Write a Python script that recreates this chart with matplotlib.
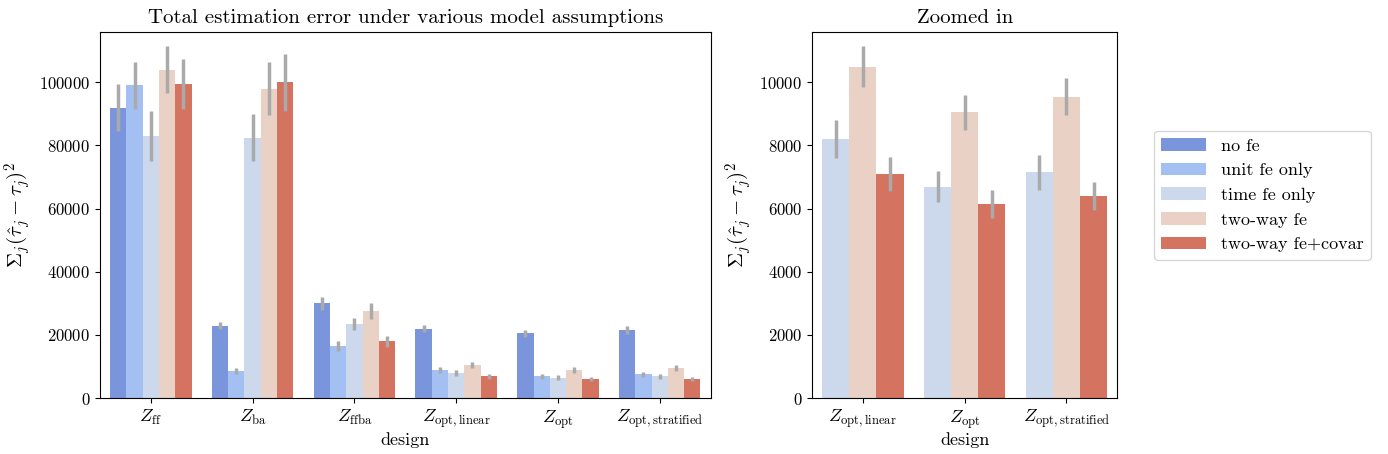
import numpy as np
import matplotlib
matplotlib.use("Agg")
import matplotlib.pyplot as plt

plt.rcParams['font.family'] = ['cmr10']
plt.rcParams['mathtext.fontset'] = 'cm'
plt.rcParams['axes.formatter.use_mathtext'] = True
plt.rcParams['axes.unicode_minus'] = False

designs = [r'$Z_{\mathrm{ff}}$', r'$Z_{\mathrm{ba}}$', r'$Z_{\mathrm{ffba}}$',
           r'$Z_{\mathrm{opt,linear}}$', r'$Z_{\mathrm{opt}}$', r'$Z_{\mathrm{opt,stratified}}$']
models = ['no fe', 'unit fe only', 'time fe only', 'two-way fe', 'two-way fe+covar']

values = {
    'no fe':            [92000, 23000, 30000, 22000, 20500, 21500],
    'unit fe only':     [99000, 8500, 16500, 9000, 7000, 7500],
    'time fe only':     [83000, 82500, 23500, 8000, 6500, 7000],
    'two-way fe':       [104000, 98000, 27500, 10500, 9000, 9500],
    'two-way fe+covar': [99500, 100000, 18000, 7000, 6000, 6000],
}
errors = {
    'no fe':            [7500, 1200, 2000, 1200, 1200, 1200],
    'unit fe only':     [7500, 900, 1500, 900, 800, 800],
    'time fe only':     [8000, 7500, 2000, 900, 800, 800],
    'two-way fe':       [7500, 8500, 2500, 1000, 900, 900],
    'two-way fe+covar': [8000, 9000, 1800, 800, 700, 700],
}

zoom_designs = designs[3:]
zoom_models = ['time fe only', 'two-way fe', 'two-way fe+covar']
zoom_values = {
    'time fe only':     [8200, 6700, 7150],
    'two-way fe':       [10500, 9050, 9550],
    'two-way fe+covar': [7100, 6150, 6400],
}
zoom_errors = {
    'time fe only':     [600, 500, 550],
    'two-way fe':       [650, 550, 600],
    'two-way fe+covar': [550, 450, 450],
}

colors = dict(zip(models, ['#7b95dd', '#a4bff2', '#ccd8ec', '#e9d1c5', '#d4735f']))

def grouped(ax, cats, mods, vals, errs):
    n = len(mods)
    w = 0.8 / n
    x = np.arange(len(cats))
    for i, m in enumerate(mods):
        pos = x - 0.4 + w * (i + 0.5)
        ax.bar(pos, vals[m], width=w, color=colors[m], label=m)
        ax.errorbar(pos, vals[m], yerr=errs[m], fmt='none', ecolor='#aaaaaa', elinewidth=2.5)
    ax.set_xticks(x)
    ax.set_xticklabels(cats, fontsize=13)
    ax.set_xlim(-0.5, len(cats) - 0.5)
    ax.set_xlabel('design', fontsize=13, labelpad=1)
    ax.set_ylabel(r'$\Sigma_j(\hat{\tau}_j-\tau_j)^2$', fontsize=15)
    ax.tick_params(axis='y', labelsize=12)

fig = plt.figure(figsize=(13.88, 4.54), dpi=100)
ax1 = fig.add_axes([0.072, 0.123, 0.44, 0.807])
ax2 = fig.add_axes([0.585, 0.123, 0.22, 0.807])

grouped(ax1, designs, models, values, errors)
ax1.set_ylim(0, 116000)
ax1.set_title('Total estimation error under various model assumptions', fontsize=15)

grouped(ax2, zoom_designs, zoom_models, zoom_values, zoom_errors)
ax2.set_ylim(0, 11600)
ax2.set_title('Zoomed in', fontsize=15)

h, l = ax1.get_legend_handles_labels()
fig.legend(h, l, loc='center left', bbox_to_anchor=(0.825, 0.57), fontsize=13, handlelength=2.5)

fig.savefig('out.png')
